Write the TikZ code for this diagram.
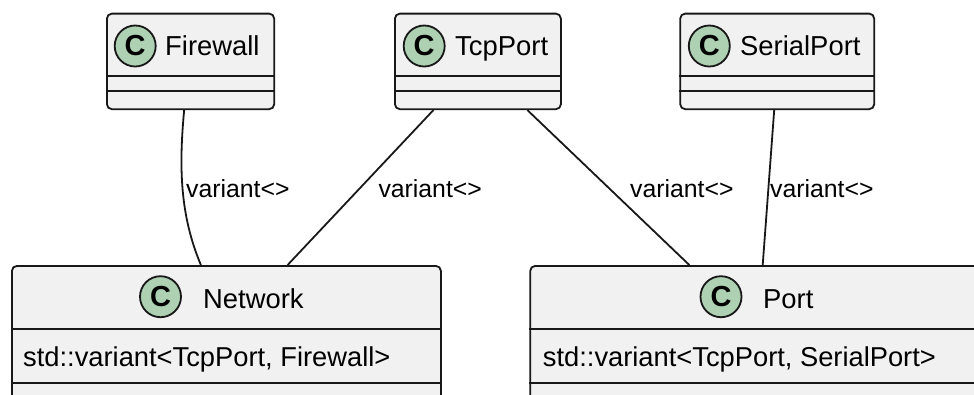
\documentclass[tikz,border=0pt]{standalone}
\usepackage{fontspec}
\setmainfont{Liberation Sans}
\definecolor{umlline}{HTML}{181818}
\definecolor{umlfill}{HTML}{F1F1F1}
\definecolor{umlicon}{HTML}{ADD1B2}
\begin{document}
\begin{tikzpicture}[x=1pt,y=-1pt,
  classbox/.style={draw=umlline, fill=umlfill, line width=1.8pt,
    rounded corners=5pt, inner sep=0pt, anchor=north west},
  sepline/.style={draw=umlline, line width=1.8pt},
  classicon/.style={circle, draw=umlline, fill=umlicon, line width=1.8pt,
    minimum size=41pt, inner sep=0pt, font=\fontsize{29}{29}\selectfont\bfseries},
  classname/.style={anchor=base west, inner sep=0pt, font=\fontsize{27.4}{27.4}\selectfont},
  member/.style={anchor=base west, inner sep=0pt, font=\fontsize{27.3}{27.3}\selectfont},
  edgelabel/.style={anchor=base west, inner sep=0pt, font=\fontsize{24.8}{24.8}\selectfont},
  conn/.style={draw=umlline, line width=1.8pt}]
\useasboundingbox (0,0) rectangle (974,394);
\clip (0,0) rectangle (974,394);

% --- top row: the three alternative types ---
\node[classbox, minimum width=167.3pt, minimum height=95.6pt] (fw) at (106,12.7) {};
\draw[sepline] (fw.west |- 0,76) -- (fw.east |- 0,76);
\draw[sepline] (fw.west |- 0,91) -- (fw.east |- 0,91);
\node[classicon] (fwc) at (135.2,46) {C};
\node[classname] (fwt) at (165,55) {Firewall};

\node[classbox, minimum width=166pt, minimum height=95.6pt] (tcp) at (394,12.7) {};
\draw[sepline] (tcp.west |- 0,76) -- (tcp.east |- 0,76);
\draw[sepline] (tcp.west |- 0,91) -- (tcp.east |- 0,91);
\node[classicon] (tcpc) at (424.2,46) {C};
\node[classname] (tcpt) at (455,55) {TcpPort};

\node[classbox, minimum width=194pt, minimum height=95.6pt] (ser) at (679.3,12.7) {};
\draw[sepline] (ser.west |- 0,76) -- (ser.east |- 0,76);
\draw[sepline] (ser.west |- 0,91) -- (ser.east |- 0,91);
\node[classicon] (serc) at (709.3,46) {C};
\node[classname] (sert) at (740,55) {SerialPort};

% --- bottom row: the classes holding a std::variant ---
\node[classbox, minimum width=429pt, minimum height=135pt] (net) at (11,265) {};
\draw[sepline] (net.west |- 0,329) -- (net.east |- 0,329);
\draw[sepline] (net.west |- 0,383) -- (net.east |- 0,383);
\node[classicon] (netc) at (160.5,296.7) {C};
\node[classname] (nett) at (203,308.5) {Network};
\node[member] (netm) at (23,366.5) {std::variant<TcpPort, Firewall>};

\node[classbox, minimum width=468pt, minimum height=135pt] (port) at (529.3,265) {};
\draw[sepline] (port.west |- 0,329) -- (port.east |- 0,329);
\draw[sepline] (port.west |- 0,383) -- (port.east |- 0,383);
\node[classicon] (portc) at (721,296.7) {C};
\node[classname] (portt) at (763,308.5) {Port};
\node[member] (portm) at (542.7,366.5) {std::variant<TcpPort, SerialPort>};

% --- connectors ---
\draw[conn] ([xshift=-6.4pt]fw.south) .. controls +(-5.3,57) and +(-21,-50) .. ([xshift=-25.5pt]net.north);
\draw[conn] ([xshift=-44.5pt]tcp.south) -- ([xshift=61.2pt]net.north);
\draw[conn] ([xshift=49.5pt]tcp.south) -- ([xshift=-74.9pt]port.north);
\draw[conn] ([xshift=-3pt]ser.south) -- ([xshift=-1.5pt]port.north);

\node[edgelabel] (l1) at (186,197) {variant<>};
\node[edgelabel] (l2) at (378.3,197) {variant<>};
\node[edgelabel] (l3) at (630,197) {variant<>};
\node[edgelabel] (l4) at (770,197) {variant<>};
\end{tikzpicture}
\end{document}
